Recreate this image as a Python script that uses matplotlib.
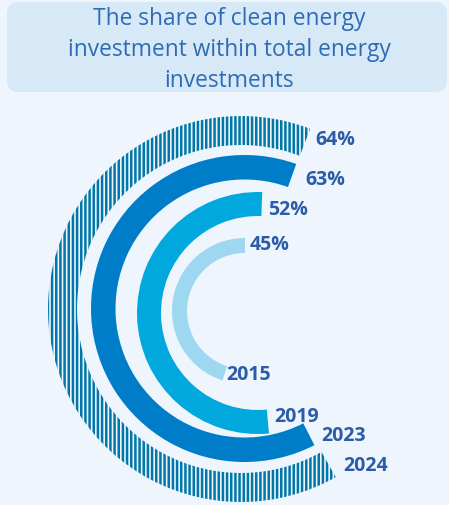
import numpy as np
import matplotlib
matplotlib.use("Agg")
import matplotlib.pyplot as plt
from matplotlib.patches import Wedge, FancyBboxPatch

# --- data -------------------------------------------------------------
years = ["2015", "2019", "2023", "2024"]
shares = [45, 52, 63, 64]          # % of total energy investment
title_lines = ["The share of clean energy",
               "investment within total energy",
               "investments"]

# --- style ------------------------------------------------------------
W, H = 449, 505
BG = "#EEF5FC"
BOX = "#D7E9F7"
TITLE_C = "#2E6CB5"
LABEL_C = "#2A5CA9"
colors = ["#9DD8F0", "#00A8DE", "#007DC8", "#0077A8"]
hatches = [None, None, None, "||||"]
# ring geometry in pixel units (x right, y down)
centers = [(245, 311), (258, 313), (244.5, 308.5), (241, 309)]
r_outer = [73, 121, 153.5, 193]
r_width = [15, 24, 24.5, 29]
start_deg = [0, -2, -19.7, -21]    # measured from 12 o'clock, counter-clockwise
val_off = [(5, -3.5), (6, 3), (13, 1.5), (10, -5)]
year_off = [(2, -1), (6, -7.5), (12, -1), (14.5, -1.5)]

plt.rcParams["hatch.linewidth"] = 1.8
FONT = "Open Sans"

fig = plt.figure(figsize=(W / 100, H / 100), dpi=100, facecolor=BG)
ax = fig.add_axes([0, 0, 1, 1])
ax.set_xlim(0, W)
ax.set_ylim(0, H)
ax.axis("off")


def py(y):
    """pixel row -> data y"""
    return H - y


# title panel
ax.add_patch(FancyBboxPatch((7, py(92)), 440, 90,
                            boxstyle="round,pad=0,rounding_size=12",
                            fc=BOX, ec="none"))
for i, line in enumerate(title_lines):
    ax.text(229, py(25 + 31 * i), line, ha="center", va="baseline",
            fontsize=16.4, color=TITLE_C, family=FONT)


def edge_point(c, r, theta):
    a = np.deg2rad(90 + theta)
    return c[0] + r * np.cos(a), c[1] - r * np.sin(a)


for i, (yr, v) in enumerate(zip(years, shares)):
    c = centers[i]
    span = v / 100 * 360
    t1 = 90 + start_deg[i]
    t2 = t1 + span
    if hatches[i]:
        w = Wedge((c[0], py(c[1])), r_outer[i], t1, t2, width=r_width[i],
                  facecolor="none", edgecolor=colors[i], hatch=hatches[i],
                  linewidth=0)
    else:
        w = Wedge((c[0], py(c[1])), r_outer[i], t1, t2, width=r_width[i],
                  facecolor=colors[i], edgecolor="none")
    ax.add_patch(w)

    rm = r_outer[i] - r_width[i] / 2
    sx, sy = edge_point(c, rm, start_deg[i])
    ex, ey = edge_point(c, rm, start_deg[i] + span)
    ax.text(sx + val_off[i][0], py(sy + val_off[i][1]), f"{v}%",
            ha="left", va="center_baseline", fontsize=14, fontweight="bold",
            color=LABEL_C, family=FONT)
    ax.text(ex + year_off[i][0], py(ey + year_off[i][1]), yr,
            ha="left", va="center_baseline", fontsize=14, fontweight="bold",
            color=LABEL_C, family=FONT)

fig.savefig("out.png", dpi=100, facecolor=BG)
